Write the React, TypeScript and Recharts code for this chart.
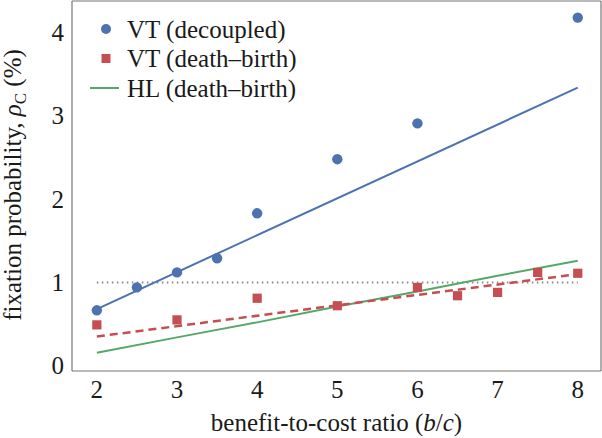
import React from "react";
import {
  ComposedChart,
  Line,
  Scatter,
  XAxis,
  YAxis,
  Legend,
} from "recharts";

// benefit-to-cost ratios and fixation probabilities (%)
const bcDecoupled = [2, 2.5, 3, 3.5, 4, 5, 6, 8];
const vtDecoupled = [0.665, 0.94, 1.12, 1.29, 1.83, 2.48, 2.91, 4.18];

const bcDeathBirth = [2, 3, 4, 5, 6, 6.5, 7, 7.5, 8];
const vtDeathBirth = [0.49, 0.55, 0.81, 0.72, 0.94, 0.84, 0.88, 1.12, 1.11];

const fitX = [2, 8];
const vtDecoupledFit = [0.68, 3.34];
const vtDeathBirthFit = [0.35, 1.1];

const hlX = [2, 3, 4, 5, 6, 7, 8];
const hlDeathBirth = [0.155, 0.34, 0.52, 0.71, 0.89, 1.08, 1.26];

const neutralX = [2, 8];
const neutralLevel = 1;

const xTicks = [2, 3, 4, 5, 6, 7, 8];
const yTicks = [0, 1, 2, 3, 4];

const BLUE = "#4c72b0";
const RED = "#c44e52";
const GREEN = "#55a868";
const FRAME = "#777777";
const INK = "#1a1a1a";
const FONT = "Liberation Serif";
const FS = 25;

const zip = (xs: number[], ys: number[]) => xs.map((x, i) => ({ x, y: ys[i] }));

const decoupledPts = zip(bcDecoupled, vtDecoupled);
const deathBirthPts = zip(bcDeathBirth, vtDeathBirth);
const decoupledFit = zip(fitX, vtDecoupledFit);
const deathBirthFit = zip(fitX, vtDeathBirthFit);
const hlLine = zip(hlX, hlDeathBirth);
const neutralLine = neutralX.map((x) => ({ x, y: neutralLevel }));

function XTick({ x, y, payload }: any) {
  return (
    <text x={x} y={y + 19} textAnchor="middle" fontFamily={FONT} fontSize={FS} fill={INK}>
      {payload.value}
    </text>
  );
}

function YTick({ x, y, payload }: any) {
  return (
    <text x={x} y={y + 8.5} textAnchor="end" fontFamily={FONT} fontSize={FS} fill={INK}>
      {payload.value}
    </text>
  );
}

function LegendBox() {
  const rows = [
    {
      label: "VT (decoupled)",
      icon: <circle cx={21} cy={15} r={5} fill={BLUE} />,
    },
    {
      label: "VT (death\u2013birth)",
      icon: <rect x={16.5} y={10.5} width={9} height={9} fill={RED} />,
    },
    {
      label: "HL (death\u2013birth)",
      icon: <line x1={5} y1={15} x2={34} y2={15} stroke={GREEN} strokeWidth={2} />,
    },
  ];
  return (
    <svg width={230} height={92}>
      {rows.map((r, i) => (
        <g key={r.label} transform={`translate(0 ${i * 29.5})`}>
          {r.icon}
          <text x={42} y={23.5} fontFamily={FONT} fontSize={FS} fill={INK}>
            {r.label}
          </text>
        </g>
      ))}
    </svg>
  );
}

export default function App() {
  return (
    <div style={{ position: "absolute", left: 0, top: 0, background: "#fff", fontFamily: FONT }}>
      <ComposedChart
        width={602}
        height={438}
        margin={{ top: 0, right: 0, bottom: 0, left: 0 }}
      >
        <XAxis
          dataKey="x"
          type="number"
          domain={[1.69, 8.29]}
          ticks={xTicks}
          allowDataOverflow
          height={67}
          tickLine={false}
          axisLine={{ stroke: FRAME, strokeWidth: 1.2 }}
          tick={<XTick />}
          label={{
            content: () => (
              <text x={336.5} y={431} textAnchor="middle" fontFamily={FONT} fontSize={FS} fill={INK}>
                benefit-to-cost ratio (<tspan fontStyle="italic">b</tspan>/<tspan fontStyle="italic">c</tspan>)
              </text>
            ),
          }}
        />
        <XAxis
          xAxisId="top"
          orientation="top"
          type="number"
          domain={[1.69, 8.29]}
          height={1}
          tick={false}
          tickLine={false}
          axisLine={{ stroke: FRAME, strokeWidth: 1.2 }}
        />
        <YAxis
          type="number"
          domain={[-0.064, 4.38]}
          ticks={yTicks}
          allowDataOverflow
          width={72}
          tickLine={false}
          axisLine={{ stroke: FRAME, strokeWidth: 1.2 }}
          tick={<YTick />}
          label={{
            content: () => (
              <text
                x={0}
                y={0}
                transform="translate(21 185) rotate(-90)"
                textAnchor="middle"
                fontFamily={FONT}
                fontSize={FS}
                fill={INK}
              >
                fixation probability, <tspan fontStyle="italic">{"\u03c1"}</tspan>
                <tspan fontSize={17} dy={5}>C</tspan>
                <tspan dy={-5}> (%)</tspan>
              </text>
            ),
          }}
        />
        <YAxis
          yAxisId="right"
          orientation="right"
          type="number"
          domain={[-0.064, 4.38]}
          width={1}
          tick={false}
          tickLine={false}
          axisLine={{ stroke: FRAME, strokeWidth: 1.2 }}
        />
        <Legend
          layout="vertical"
          align="center"
          verticalAlign="middle"
          wrapperStyle={{ top: 14, left: 85, width: 230, height: 92 }}
          content={() => <LegendBox />}
        />
        <Line
          data={neutralLine}
          dataKey="y"
          stroke="#888888"
          strokeWidth={2}
          strokeDasharray="1.5 3.5"
          dot={false}
          isAnimationActive={false}
          legendType="none"
        />
        <Line
          data={decoupledFit}
          dataKey="y"
          stroke={BLUE}
          strokeWidth={2}
          dot={false}
          isAnimationActive={false}
        />
        <Line
          data={hlLine}
          dataKey="y"
          stroke={GREEN}
          strokeWidth={2}
          dot={false}
          isAnimationActive={false}
        />
        <Line
          data={deathBirthFit}
          dataKey="y"
          stroke={RED}
          strokeWidth={2.5}
          strokeDasharray="8 5"
          dot={false}
          isAnimationActive={false}
        />
        <Scatter
          data={decoupledPts}
          dataKey="y"
          isAnimationActive={false}
          shape={(p: any) => <circle cx={p.cx} cy={p.cy} r={5.2} fill={BLUE} />}
        />
        <Scatter
          data={deathBirthPts}
          dataKey="y"
          isAnimationActive={false}
          shape={(p: any) => (
            <rect x={p.cx - 4.6} y={p.cy - 4.6} width={9.2} height={9.2} fill={RED} />
          )}
        />
      </ComposedChart>
    </div>
  );
}
